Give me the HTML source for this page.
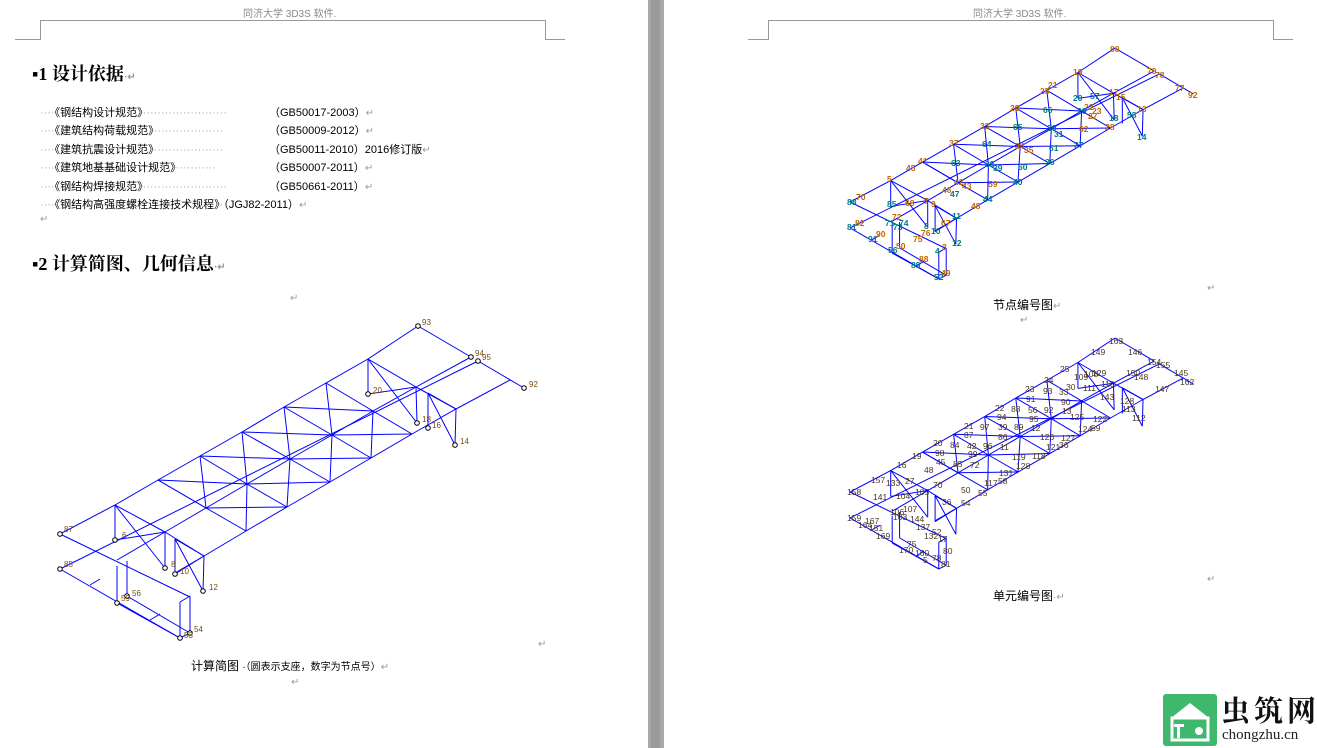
<!DOCTYPE html>
<html><head><meta charset="utf-8"><style>
body{margin:0;width:1317px;height:748px;background:#fff;position:relative;overflow:hidden;font-family:"Liberation Sans","Noto Sans CJK SC",sans-serif}
.a{position:absolute;white-space:nowrap}
.hd{font-size:10px;color:#888}
.h1{font-size:18px;font-weight:bold;color:#000;font-family:"Liberation Serif","Noto Serif CJK SC",serif}
.li{font-size:11px;color:#000}
.dt{color:#aac;letter-spacing:0}
.rt{color:#999;font-size:10px}
.cap{font-size:12px;color:#000}
.sm{font-size:10px;color:#333}
</style></head><body>
<!-- page separator -->
<div class="a" style="left:648px;top:0;width:16px;height:748px;background:#a8a8a8"></div>
<div class="a" style="left:651px;top:0;width:9px;height:748px;background:#9a9a9a"></div>

<svg class="a" style="left:0;top:0" width="1317" height="748">
<g fill="none" stroke="#999" stroke-width="1">
<polyline points="15,39.5 40.5,39.5 40.5,20.5 545.5,20.5 545.5,39.5 565,39.5"/>
<polyline points="748,39.5 768.5,39.5 768.5,20.5 1273.5,20.5 1273.5,39.5 1293,39.5"/>
</g>
<defs>
<g id="t" fill="none" stroke="#0000ff">
<polyline points="60,534 115,505 158,480 200,456 242,432 284,407 326,383 368,359 418,326"/>
<polyline points="117,560 165,532 206,508 247,484 290,459 332,435 373,411 416,387 471,357"/>
<polyline points="175,573 204,556 246,531 287,507 330,482 371,458 412,434 456,409 510,380"/>
<line x1="60" y1="569" x2="478" y2="361"/>
<line x1="418" y1="326" x2="471" y2="357"/>
<line x1="478" y1="361" x2="524" y2="388"/>
<line x1="60" y1="534" x2="190" y2="597"/>
<line x1="60" y1="569" x2="180" y2="638"/>
<line x1="115" y1="505" x2="165" y2="532"/><line x1="158" y1="480" x2="206" y2="508"/><line x1="200" y1="456" x2="247" y2="484"/><line x1="242" y1="432" x2="290" y2="459"/><line x1="284" y1="407" x2="332" y2="435"/><line x1="326" y1="383" x2="373" y2="411"/><line x1="368" y1="359" x2="416" y2="387"/>
<line x1="165" y1="532" x2="204" y2="556"/><line x1="206" y1="508" x2="246" y2="531"/><line x1="247" y1="484" x2="287" y2="507"/><line x1="290" y1="459" x2="330" y2="482"/><line x1="332" y1="435" x2="371" y2="458"/><line x1="373" y1="411" x2="412" y2="434"/><line x1="416" y1="387" x2="456" y2="409"/>
<line x1="158" y1="480" x2="206" y2="508"/>
<line x1="200" y1="456" x2="206" y2="508"/><line x1="158" y1="480" x2="247" y2="484"/>
<line x1="242" y1="432" x2="247" y2="484"/><line x1="200" y1="456" x2="290" y2="459"/>
<line x1="284" y1="407" x2="290" y2="459"/><line x1="242" y1="432" x2="332" y2="435"/>
<line x1="326" y1="383" x2="332" y2="435"/><line x1="284" y1="407" x2="373" y2="411"/>
<line x1="206" y1="508" x2="287" y2="507"/><line x1="247" y1="484" x2="246" y2="531"/>
<line x1="247" y1="484" x2="330" y2="482"/><line x1="290" y1="459" x2="287" y2="507"/>
<line x1="290" y1="459" x2="371" y2="458"/><line x1="332" y1="435" x2="330" y2="482"/>
<line x1="332" y1="435" x2="412" y2="434"/><line x1="373" y1="411" x2="371" y2="458"/>
<line x1="115" y1="505" x2="115" y2="540"/><line x1="115" y1="540" x2="165" y2="532"/><line x1="115" y1="505" x2="165" y2="568"/><line x1="165" y1="532" x2="165" y2="568"/>
<line x1="175" y1="539" x2="175" y2="574"/><line x1="175" y1="539" x2="204" y2="556"/><line x1="175" y1="539" x2="203" y2="591"/><line x1="204" y1="556" x2="203" y2="591"/><line x1="175" y1="574" x2="204" y2="556"/>
<line x1="368" y1="359" x2="368" y2="394"/><line x1="368" y1="394" x2="416" y2="387"/><line x1="368" y1="359" x2="417" y2="423"/><line x1="416" y1="387" x2="417" y2="423"/>
<line x1="428" y1="393" x2="428" y2="428"/><line x1="428" y1="393" x2="456" y2="409"/><line x1="428" y1="393" x2="455" y2="445"/><line x1="456" y1="409" x2="455" y2="445"/>
<line x1="117" y1="566" x2="117" y2="603"/><line x1="127" y1="561" x2="127" y2="596"/><line x1="180" y1="602" x2="180" y2="638"/><line x1="190" y1="596" x2="190" y2="633"/>
<line x1="117" y1="603" x2="180" y2="638"/><line x1="127" y1="596" x2="190" y2="633"/><line x1="180" y1="602" x2="190" y2="596"/><line x1="180" y1="638" x2="190" y2="633"/>
<line x1="90" y1="585" x2="100" y2="579"/><line x1="150" y1="620" x2="160" y2="614"/>
</g>
</defs>
<use href="#t" stroke-width="1"/>
<g fill="#fff" stroke="#000" stroke-width="1">
<circle cx="60" cy="534" r="2.3"/><circle cx="60" cy="569" r="2.3"/><circle cx="418" cy="326" r="2.3"/><circle cx="471" cy="357" r="2.3"/><circle cx="478" cy="361" r="2.3"/><circle cx="524" cy="388" r="2.3"/><circle cx="115" cy="540" r="2.3"/><circle cx="165" cy="568" r="2.3"/><circle cx="175" cy="574" r="2.3"/><circle cx="203" cy="591" r="2.3"/><circle cx="368" cy="394" r="2.3"/><circle cx="417" cy="423" r="2.3"/><circle cx="428" cy="428" r="2.3"/><circle cx="455" cy="445" r="2.3"/><circle cx="117" cy="603" r="2.3"/><circle cx="127" cy="596" r="2.3"/><circle cx="180" cy="638" r="2.3"/><circle cx="190" cy="633" r="2.3"/>
</g>
<g font-size="8" fill="#7a4a10" font-family="Liberation Sans,sans-serif">
<text x="64" y="532">87</text><text x="64" y="567">85</text><text x="422" y="325">93</text><text x="475" y="356">94</text><text x="482" y="360">95</text><text x="529" y="387">92</text><text x="122" y="538">6</text><text x="171" y="567">8</text><text x="180" y="574">10</text><text x="209" y="590">12</text><text x="373" y="393">20</text><text x="422" y="422">18</text><text x="432" y="428">16</text><text x="460" y="444">14</text><text x="132" y="596">56</text><text x="121" y="601">59</text><text x="194" y="632">54</text><text x="184" y="638">53</text>
</g>
<use href="#t" stroke-width="1.35" transform="translate(850,202) scale(0.74) translate(-60,-534)"/>
<use href="#t" stroke-width="1.35" transform="translate(850,492) scale(0.74) translate(-60,-534)"/>
<g font-size="8.5" font-weight="bold" font-family="Liberation Sans,sans-serif">
<g fill="#c06800">
<text x="1110" y="52">80</text><text x="1073" y="75">19</text><text x="1048" y="88">21</text><text x="1040" y="94">25</text><text x="1147" y="74">79</text><text x="1175" y="91">77</text><text x="1109" y="95">17</text><text x="1116" y="100">15</text><text x="1084" y="110">22</text><text x="1092" y="114">23</text><text x="1137" y="112">13</text><text x="1010" y="111">29</text><text x="980" y="129">33</text><text x="949" y="146">37</text><text x="1015" y="149">34</text><text x="1024" y="153">35</text><text x="918" y="164">41</text><text x="906" y="171">45</text><text x="954" y="185">42</text><text x="962" y="189">43</text><text x="942" y="193">46</text><text x="887" y="182">5</text><text x="856" y="200">70</text><text x="905" y="206">68</text><text x="924" y="204">7</text><text x="931" y="207">9</text><text x="941" y="226">67</text><text x="892" y="220">72</text><text x="921" y="236">76</text><text x="913" y="242">75</text><text x="855" y="226">82</text><text x="876" y="237">90</text><text x="896" y="249">50</text><text x="919" y="262">88</text><text x="942" y="250">3</text><text x="941" y="276">49</text><text x="1105" y="130">28</text><text x="1188" y="98">92</text><text x="1155" y="78">78</text><text x="1088" y="119">27</text><text x="1079" y="132">62</text><text x="971" y="209">48</text><text x="988" y="187">59</text>
</g>
<g fill="#007a8a">
<text x="1073" y="101">20</text><text x="1090" y="99">57</text><text x="1077" y="114">26</text><text x="1127" y="118">58</text><text x="1109" y="121">18</text><text x="1137" y="140">14</text><text x="1043" y="113">66</text><text x="1013" y="130">65</text><text x="1047" y="131">30</text><text x="1054" y="137">31</text><text x="982" y="147">64</text><text x="1049" y="151">61</text><text x="1074" y="148">37</text><text x="951" y="166">63</text><text x="985" y="167">38</text><text x="993" y="171">39</text><text x="1018" y="170">60</text><text x="1045" y="165">36</text><text x="1013" y="185">40</text><text x="950" y="197">47</text><text x="983" y="202">44</text><text x="887" y="207">85</text><text x="924" y="229">8</text><text x="931" y="234">10</text><text x="952" y="219">11</text><text x="952" y="246">12</text><text x="885" y="226">71</text><text x="899" y="226">74</text><text x="893" y="230">73</text><text x="935" y="254">4</text><text x="868" y="242">91</text><text x="888" y="253">56</text><text x="911" y="268">89</text><text x="934" y="280">52</text><text x="847" y="205">88</text><text x="847" y="230">81</text>
</g>
</g>
<g font-size="8.5" fill="#4a3520" font-family="Liberation Sans,sans-serif">
<text x="1109" y="344">163</text><text x="1091" y="355">149</text><text x="1128" y="355">146</text><text x="1147" y="365">154</text><text x="1156" y="368">155</text><text x="1174" y="376">145</text><text x="1180" y="385">162</text><text x="1126" y="376">150</text><text x="1134" y="380">148</text><text x="1155" y="392">147</text><text x="1060" y="372">25</text><text x="1044" y="383">24</text><text x="1066" y="390">30</text><text x="1059" y="395">33</text><text x="1025" y="392">23</text><text x="1043" y="394">93</text><text x="1026" y="402">91</text><text x="1061" y="405">90</text><text x="995" y="411">22</text><text x="1011" y="412">88</text><text x="1028" y="413">56</text><text x="1044" y="413">92</text><text x="1062" y="414">13</text><text x="997" y="420">94</text><text x="1029" y="422">95</text><text x="964" y="429">21</text><text x="980" y="430">97</text><text x="998" y="430">39</text><text x="1014" y="430">89</text><text x="1031" y="431">12</text><text x="964" y="438">87</text><text x="998" y="440">86</text><text x="933" y="446">20</text><text x="950" y="448">84</text><text x="967" y="449">42</text><text x="983" y="449">96</text><text x="1000" y="450">11</text><text x="912" y="459">19</text><text x="935" y="456">98</text><text x="968" y="457">99</text><text x="936" y="465">45</text><text x="953" y="467">85</text><text x="897" y="468">16</text><text x="924" y="473">48</text><text x="970" y="468">72</text><text x="871" y="483">157</text><text x="886" y="486">133</text><text x="905" y="484">27</text><text x="933" y="488">70</text><text x="961" y="493">50</text><text x="915" y="495">105</text><text x="873" y="500">141</text><text x="896" y="499">104</text><text x="961" y="506">54</text><text x="978" y="496">55</text><text x="942" y="505">36</text><text x="847" y="495">158</text><text x="847" y="521">159</text><text x="865" y="524">167</text><text x="910" y="522">144</text><text x="916" y="530">137</text><text x="932" y="535">52</text><text x="924" y="539">132</text><text x="938" y="542">17</text><text x="943" y="554">80</text><text x="907" y="547">75</text><text x="899" y="553">170</text><text x="915" y="556">160</text><text x="932" y="561">78</text><text x="941" y="567">81</text><text x="923" y="563">5</text><text x="869" y="531">151</text><text x="876" y="539">169</text><text x="858" y="528">164</text><text x="1093" y="422">122</text><text x="1091" y="431">59</text><text x="1078" y="432">124</text><text x="1061" y="441">127</text><text x="1059" y="448">36</text><text x="1046" y="450">121</text><text x="1032" y="459">118</text><text x="1016" y="469">128</text><text x="999" y="476">131</text><text x="998" y="484">58</text><text x="984" y="486">117</text><text x="1132" y="421">112</text><text x="1083" y="391">111</text><text x="1101" y="387">110</text><text x="1074" y="380">109</text><text x="1084" y="377">108</text><text x="1092" y="376">129</text><text x="1100" y="400">143</text><text x="1070" y="420">125</text><text x="1040" y="440">126</text><text x="1012" y="460">119</text><text x="890" y="515">106</text><text x="893" y="520">103</text><text x="903" y="512">107</text><text x="1120" y="404">128</text><text x="1122" y="412">113</text>
</g>
<!-- logo -->
<rect x="1163" y="694" width="54" height="52" rx="3" fill="#3db86c"/>
<path d="M1171,718 L1190,703 L1209,718 Z" fill="#fff"/>
<rect x="1172" y="718" width="36" height="22" fill="none" stroke="#fff" stroke-width="3"/>
<rect x="1174" y="724" width="10" height="3" fill="#fff"/><rect x="1177" y="724" width="3" height="14" fill="#fff"/>
<circle cx="1199" cy="731" r="4" fill="#fff"/>
</svg>

<!-- left page text -->
<div class="a hd" style="left:243px;top:5px">同济大学 3D3S 软件.</div>
<div class="a h1" style="left:32px;top:60px">▪1 设计依据<span class="rt">·↵</span></div>
<div class="a li" style="left:40px;top:104px"><span class="dt">····</span>《钢结构设计规范》<span class="dt">·······················</span></div>
<div class="a li" style="left:269px;top:104px">（GB50017-2003）<span class="rt">↵</span></div>
<div class="a li" style="left:40px;top:122px"><span class="dt">····</span>《建筑结构荷载规范》<span class="dt">···················</span></div>
<div class="a li" style="left:269px;top:122px">（GB50009-2012）<span class="rt">↵</span></div>
<div class="a li" style="left:40px;top:141px"><span class="dt">····</span>《建筑抗震设计规范》<span class="dt">···················</span></div>
<div class="a li" style="left:269px;top:141px">（GB50011-2010）2016修订版<span class="rt">↵</span></div>
<div class="a li" style="left:40px;top:159px"><span class="dt">····</span>《建筑地基基础设计规范》<span class="dt">···········</span></div>
<div class="a li" style="left:269px;top:159px">（GB50007-2011）<span class="rt">↵</span></div>
<div class="a li" style="left:40px;top:178px"><span class="dt">····</span>《钢结构焊接规范》<span class="dt">·······················</span></div>
<div class="a li" style="left:269px;top:178px">（GB50661-2011）<span class="rt">↵</span></div>
<div class="a li" style="left:40px;top:196px"><span class="dt">····</span>《钢结构高强度螺栓连接技术规程》<span class="dt">·</span>（JGJ82-2011）<span class="rt">↵</span></div>
<div class="a rt" style="left:40px;top:214px">↵</div>
<div class="a h1" style="left:32px;top:250px">▪2 计算简图、几何信息<span class="rt">·↵</span></div>
<div class="a rt" style="left:290px;top:293px">↵</div>
<div class="a rt" style="left:538px;top:639px">↵</div>
<div class="a cap" style="left:191px;top:657px">计算简图 <span style="font-size:10px">·（圆表示支座，数字为节点号）</span><span class="rt">↵</span></div>
<div class="a rt" style="left:291px;top:677px">↵</div>

<!-- right page text -->
<div class="a hd" style="left:973px;top:5px">同济大学 3D3S 软件.</div>
<div class="a rt" style="left:1207px;top:283px">↵</div>
<div class="a cap" style="left:993px;top:296px">节点编号图<span class="rt">↵</span></div>
<div class="a rt" style="left:1020px;top:315px">↵</div>
<div class="a rt" style="left:1207px;top:574px">↵</div>
<div class="a cap" style="left:993px;top:587px">单元编号图<span class="rt">·↵</span></div>

<div class="a" style="left:1221px;top:694px;font-size:29px;font-weight:bold;color:#111;letter-spacing:4px;font-family:'Noto Serif CJK SC',serif;line-height:32px">虫筑网</div>
<div class="a" style="left:1222px;top:727px;font-size:15px;color:#222;font-family:'Liberation Serif',serif">chongzhu.cn</div>
</body></html>
